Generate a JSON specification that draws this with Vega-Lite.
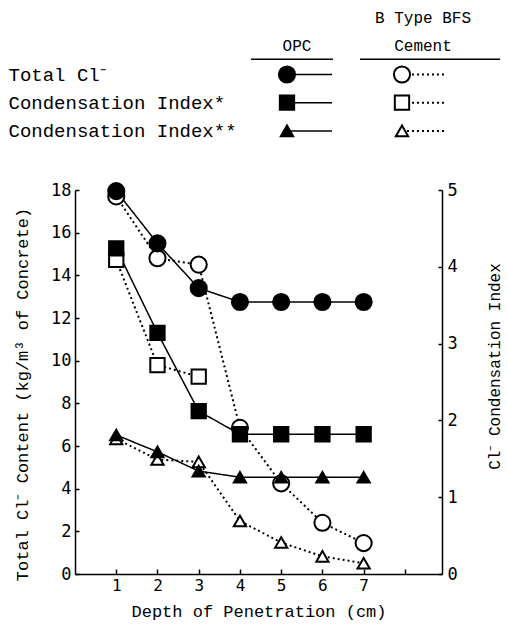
{
  "$schema": "https://vega.github.io/schema/vega-lite/v6.json",
  "background": "white",
  "padding": {"left": 8, "top": 4, "right": 6, "bottom": 5},
  "bounds": "flush",
  "spacing": 45,
  "config": {
    "view": {"stroke": null},
    "font": "Liberation Mono",
    "axis": {
      "labelFont": "DejaVu Sans Mono",
      "titleFont": "Liberation Mono",
      "labelColor": "black",
      "titleColor": "black",
      "domainColor": "black",
      "tickColor": "black",
      "domainWidth": 1.5,
      "tickWidth": 1.5,
      "titleFontWeight": "normal",
      "grid": false
    }
  },
  "datasets": {
    "profiles": [
      {"depth": 1, "cement": "B Type BFS Cement", "measure": "Total Cl⁻", "value": 17.7},
      {"depth": 2, "cement": "B Type BFS Cement", "measure": "Total Cl⁻", "value": 14.8},
      {"depth": 3, "cement": "B Type BFS Cement", "measure": "Total Cl⁻", "value": 14.5},
      {"depth": 4, "cement": "B Type BFS Cement", "measure": "Total Cl⁻", "value": 6.85},
      {"depth": 5, "cement": "B Type BFS Cement", "measure": "Total Cl⁻", "value": 4.25},
      {"depth": 6, "cement": "B Type BFS Cement", "measure": "Total Cl⁻", "value": 2.4},
      {"depth": 7, "cement": "B Type BFS Cement", "measure": "Total Cl⁻", "value": 1.45},
      {"depth": 1, "cement": "B Type BFS Cement", "measure": "Condensation Index*", "value": 4.09},
      {"depth": 2, "cement": "B Type BFS Cement", "measure": "Condensation Index*", "value": 2.72},
      {"depth": 3, "cement": "B Type BFS Cement", "measure": "Condensation Index*", "value": 2.57},
      {"depth": 1, "cement": "B Type BFS Cement", "measure": "Condensation Index**", "value": 1.76},
      {"depth": 2, "cement": "B Type BFS Cement", "measure": "Condensation Index**", "value": 1.49},
      {"depth": 3, "cement": "B Type BFS Cement", "measure": "Condensation Index**", "value": 1.46},
      {"depth": 4, "cement": "B Type BFS Cement", "measure": "Condensation Index**", "value": 0.69},
      {"depth": 5, "cement": "B Type BFS Cement", "measure": "Condensation Index**", "value": 0.41},
      {"depth": 6, "cement": "B Type BFS Cement", "measure": "Condensation Index**", "value": 0.23},
      {"depth": 7, "cement": "B Type BFS Cement", "measure": "Condensation Index**", "value": 0.14},
      {"depth": 1, "cement": "OPC", "measure": "Total Cl⁻", "value": 17.95},
      {"depth": 2, "cement": "OPC", "measure": "Total Cl⁻", "value": 15.5},
      {"depth": 3, "cement": "OPC", "measure": "Total Cl⁻", "value": 13.4},
      {"depth": 4, "cement": "OPC", "measure": "Total Cl⁻", "value": 12.75},
      {"depth": 5, "cement": "OPC", "measure": "Total Cl⁻", "value": 12.75},
      {"depth": 6, "cement": "OPC", "measure": "Total Cl⁻", "value": 12.75},
      {"depth": 7, "cement": "OPC", "measure": "Total Cl⁻", "value": 12.75},
      {"depth": 1, "cement": "OPC", "measure": "Condensation Index*", "value": 4.24},
      {"depth": 2, "cement": "OPC", "measure": "Condensation Index*", "value": 3.14},
      {"depth": 3, "cement": "OPC", "measure": "Condensation Index*", "value": 2.12},
      {"depth": 4, "cement": "OPC", "measure": "Condensation Index*", "value": 1.82},
      {"depth": 5, "cement": "OPC", "measure": "Condensation Index*", "value": 1.82},
      {"depth": 6, "cement": "OPC", "measure": "Condensation Index*", "value": 1.82},
      {"depth": 7, "cement": "OPC", "measure": "Condensation Index*", "value": 1.82},
      {"depth": 1, "cement": "OPC", "measure": "Condensation Index**", "value": 1.81},
      {"depth": 2, "cement": "OPC", "measure": "Condensation Index**", "value": 1.59},
      {"depth": 3, "cement": "OPC", "measure": "Condensation Index**", "value": 1.34},
      {"depth": 4, "cement": "OPC", "measure": "Condensation Index**", "value": 1.26},
      {"depth": 5, "cement": "OPC", "measure": "Condensation Index**", "value": 1.26},
      {"depth": 6, "cement": "OPC", "measure": "Condensation Index**", "value": 1.26},
      {"depth": 7, "cement": "OPC", "measure": "Condensation Index**", "value": 1.26}
    ],
    "headers": [
      {"cement": "OPC", "line": "header", "text": "OPC"},
      {"cement": "B Type BFS Cement", "line": "title", "text": "B Type BFS"},
      {"cement": "B Type BFS Cement", "line": "header", "text": "Cement"}
    ]
  },
  "vconcat": [
    {
      "width": 345,
      "height": 141,
      "encoding": {
        "x": {
          "field": "cement",
          "type": "nominal",
          "scale": {"type": "point", "domain": ["OPC", "B Type BFS Cement"], "padding": 1, "align": 0.9217},
          "axis": null
        }
      },
      "layer": [
        {
          "data": {"name": "headers"},
          "transform": [{"filter": "datum.cement == 'OPC'"}],
          "mark": {"type": "text", "baseline": "middle", "align": "center", "dx": 10, "fontSize": 16, "color": "black"},
          "encoding": {
            "y": {"field": "line", "type": "nominal"},
            "text": {"field": "text"}
          }
        },
        {
          "data": {"name": "headers"},
          "transform": [{"filter": "datum.cement != 'OPC'"}],
          "mark": {"type": "text", "baseline": "middle", "align": "center", "dx": 21, "fontSize": 16, "color": "black"},
          "encoding": {
            "y": {"field": "line", "type": "nominal"},
            "text": {"field": "text"}
          }
        },
        {
          "data": {"name": "headers"},
          "transform": [{"filter": "datum.cement == 'OPC'"}],
          "mark": {"type": "rule", "xOffset": -36, "x2Offset": 46, "yOffset": 13, "color": "black", "strokeWidth": 1.5},
          "encoding": {
            "x2": {"field": "cement"},
            "y": {"field": "line", "type": "nominal"}
          }
        },
        {
          "data": {"name": "headers"},
          "transform": [{"filter": "datum.cement != 'OPC' && datum.line == 'header'"}],
          "mark": {"type": "rule", "xOffset": -42, "x2Offset": 98, "yOffset": 13, "color": "black", "strokeWidth": 1.5},
          "encoding": {
            "x2": {"field": "cement"},
            "y": {"field": "line", "type": "nominal"}
          }
        },
        {
          "data": {"name": "profiles"},
          "transform": [{"aggregate": [], "groupby": ["measure", "cement"]}],
          "mark": {"type": "rule", "x2Offset": 45, "color": "black"},
          "encoding": {
            "x2": {"field": "cement"},
            "y": {
              "field": "measure",
              "type": "nominal",
              "scale": {"type": "point", "domain": ["title", "header", "Total Cl⁻", "Condensation Index*", "Condensation Index**"], "padding": 0.5},
              "axis": {
                "orient": "left",
                "title": null,
                "domain": false,
                "ticks": false,
                "labelAlign": "left",
                "labelBaseline": "middle",
                "labelPadding": 67,
                "labelLimit": 0,
                "labelFont": "Liberation Mono",
                "labelFontSize": 19,
                "labelExpr": "datum.value == 'title' || datum.value == 'header' ? '' : datum.label"
              }
            },
            "strokeDash": {
              "field": "cement",
              "type": "nominal",
              "scale": {"domain": ["OPC", "B Type BFS Cement"], "range": [[1, 0], [2, 3]]},
              "legend": null
            },
            "strokeWidth": {
              "field": "cement",
              "type": "nominal",
              "scale": {"domain": ["OPC", "B Type BFS Cement"], "range": [1.5, 2]},
              "legend": null
            }
          }
        },
        {
          "data": {"name": "profiles"},
          "transform": [{"aggregate": [], "groupby": ["measure", "cement"]}],
          "mark": {"type": "point", "filled": true, "opacity": 1, "stroke": "black", "strokeWidth": 2},
          "encoding": {
            "y": {"field": "measure", "type": "nominal"},
            "shape": {
              "field": "measure",
              "type": "nominal",
              "scale": {"domain": ["Total Cl⁻", "Condensation Index*", "Condensation Index**"], "range": ["circle", "square", "triangle-up"]},
              "legend": null
            },
            "size": {
              "field": "measure",
              "type": "nominal",
              "scale": {"domain": ["Total Cl⁻", "Condensation Index*", "Condensation Index**"], "range": [260, 150, 250]},
              "legend": null
            },
            "fill": {
              "field": "cement",
              "type": "nominal",
              "scale": {"domain": ["OPC", "B Type BFS Cement"], "range": ["black", "white"]},
              "legend": null
            }
          }
        }
      ]
    },
    {
      "width": 367,
      "height": 384,
      "data": {"name": "profiles"},
      "layer": [
        {
          "transform": [{"filter": "datum.measure == 'Total Cl⁻'"}],
          "encoding": {
            "x": {
              "field": "depth",
              "type": "quantitative",
              "scale": {"domain": [0, 8.9], "nice": false, "zero": false},
              "axis": {
                "values": [1, 2, 3, 4, 5, 6, 7, 8],
                "labelExpr": "datum.value == 8 ? '' : datum.label",
                "tickSize": -5,
                "labelFontSize": 16,
                "labelPadding": 8,
                "title": "Depth of Penetration (cm)",
                "titleFontSize": 17,
                "titlePadding": 10
              }
            },
            "y": {
              "field": "value",
              "type": "quantitative",
              "scale": {"domain": [0, 18], "nice": false},
              "axis": {
                "values": [0, 2, 4, 6, 8, 10, 12, 14, 16, 18],
                "tickSize": -4,
                "labelFontSize": 17,
                "labelPadding": 8,
                "title": "Total Cl⁻ Content (kg/m³ of Concrete)",
                "titleFontSize": 17,
                "titleAngle": 270,
                "titleBaseline": "middle",
                "titleAlign": "center",
                "titleX": -53,
                "titleY": 204
              }
            }
          },
          "layer": [
            {
              "mark": {"type": "line", "color": "black"},
              "encoding": {
                "detail": {"field": "cement"},
                "strokeDash": {"field": "cement", "type": "nominal", "scale": {"domain": ["OPC", "B Type BFS Cement"], "range": [[1, 0], [2, 3]]}, "legend": null},
                "strokeWidth": {"field": "cement", "type": "nominal", "scale": {"domain": ["OPC", "B Type BFS Cement"], "range": [1.5, 2]}, "legend": null}
              }
            },
            {
              "mark": {"type": "point", "filled": true, "opacity": 1, "stroke": "black", "strokeWidth": 2},
              "encoding": {
                "shape": {"field": "measure", "type": "nominal", "scale": {"domain": ["Total Cl⁻", "Condensation Index*", "Condensation Index**"], "range": ["circle", "square", "triangle-up"]}, "legend": null},
                "size": {"field": "measure", "type": "nominal", "scale": {"domain": ["Total Cl⁻", "Condensation Index*", "Condensation Index**"], "range": [260, 150, 250]}, "legend": null},
                "fill": {"field": "cement", "type": "nominal", "scale": {"domain": ["OPC", "B Type BFS Cement"], "range": ["black", "white"]}, "legend": null}
              }
            }
          ]
        },
        {
          "transform": [{"filter": "datum.measure != 'Total Cl⁻'"}],
          "encoding": {
            "x": {"field": "depth", "type": "quantitative"},
            "y": {
              "field": "value",
              "type": "quantitative",
              "scale": {"domain": [0, 5], "nice": false},
              "axis": {
                "orient": "right",
                "values": [0, 1, 2, 3, 4, 5],
                "tickSize": -4,
                "labelFontSize": 17,
                "labelPadding": 9,
                "title": "Cl⁻ Condensation Index",
                "titleAngle": 270,
                "titleBaseline": "middle",
                "titleAlign": "center",
                "titleFontSize": 16,
                "titleX": 52,
                "titleY": 176
              }
            }
          },
          "layer": [
            {
              "mark": {"type": "line", "color": "black"},
              "encoding": {
                "detail": {"field": "measure"},
                "strokeDash": {"field": "cement", "type": "nominal", "scale": {"domain": ["OPC", "B Type BFS Cement"], "range": [[1, 0], [2, 3]]}, "legend": null},
                "strokeWidth": {"field": "cement", "type": "nominal", "scale": {"domain": ["OPC", "B Type BFS Cement"], "range": [1.5, 2]}, "legend": null}
              }
            },
            {
              "mark": {"type": "point", "filled": true, "opacity": 1, "stroke": "black", "strokeWidth": 2},
              "encoding": {
                "shape": {"field": "measure", "type": "nominal", "scale": {"domain": ["Total Cl⁻", "Condensation Index*", "Condensation Index**"], "range": ["circle", "square", "triangle-up"]}, "legend": null},
                "size": {"field": "measure", "type": "nominal", "scale": {"domain": ["Total Cl⁻", "Condensation Index*", "Condensation Index**"], "range": [260, 150, 250]}, "legend": null},
                "fill": {"field": "cement", "type": "nominal", "scale": {"domain": ["OPC", "B Type BFS Cement"], "range": ["black", "white"]}, "legend": null}
              }
            }
          ]
        }
      ],
      "resolve": {"scale": {"y": "independent"}}
    }
  ]
}
